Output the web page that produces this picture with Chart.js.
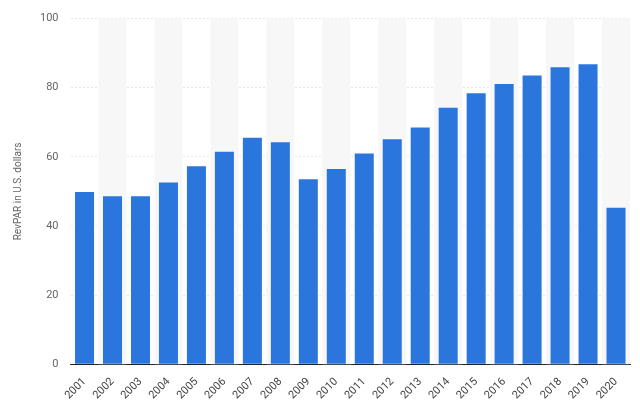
<!DOCTYPE html>
<html><head><meta charset="utf-8">
<script src="https://cdn.jsdelivr.net/npm/chart.js@4/dist/chart.umd.min.js"></script>
<style>html,body{margin:0;padding:0;background:#fff}#w{width:640px;height:405px}</style>
</head><body><div id="w"><canvas id="c"></canvas></div>
<script>
const years=['2001','2002','2003','2004','2005','2006','2007','2008','2009','2010','2011','2012','2013','2014','2015','2016','2017','2018','2019','2020'];
const revpar=[49.8,48.6,48.6,52.6,57.3,61.5,65.5,64.2,53.5,56.5,61,65.1,68.5,74.2,78.4,81.1,83.5,85.9,86.8,45.3];
const yTicks=[0,20,40,60,80,100];
const bands={id:'bands',beforeDatasetsDraw(ch){const x=ch.scales.x,a=ch.chartArea,c=ch.ctx;const w=(x.getPixelForValue(1)-x.getPixelForValue(0));c.save();c.fillStyle='#f7f7f7';for(let i=1;i<years.length;i+=2){const p=x.getPixelForValue(i);c.fillRect(p-w/2,a.top,w,a.bottom-a.top);}c.restore();}};
new Chart(document.getElementById('c'),{type:'bar',data:{labels:years,datasets:[{data:revpar,backgroundColor:'#2a76dd',categoryPercentage:1,barPercentage:0.68}]},
options:{responsive:true,maintainAspectRatio:false,animation:false,layout:{padding:{left:8,right:10,top:14,bottom:0}},
plugins:{legend:{display:false},tooltip:{enabled:false}},
scales:{x:{grid:{display:false},border:{color:'#222',width:1},ticks:{color:'#444',font:{family:'Roboto',size:11},maxRotation:45,minRotation:45,autoSkip:false}},
y:{min:0,max:100,afterBuildTicks(s){s.ticks=yTicks.map(v=>({value:v}));},grid:{color:'#e6e6e6',drawTicks:false},border:{display:false,dash:[2,2]},ticks:{color:'#666',font:{family:'Roboto',size:11},padding:12},
title:{display:true,text:'RevPAR in U.S. dollars',color:'#666',font:{family:'Roboto',size:10}}}}},plugins:[bands]});
</script></body></html>
